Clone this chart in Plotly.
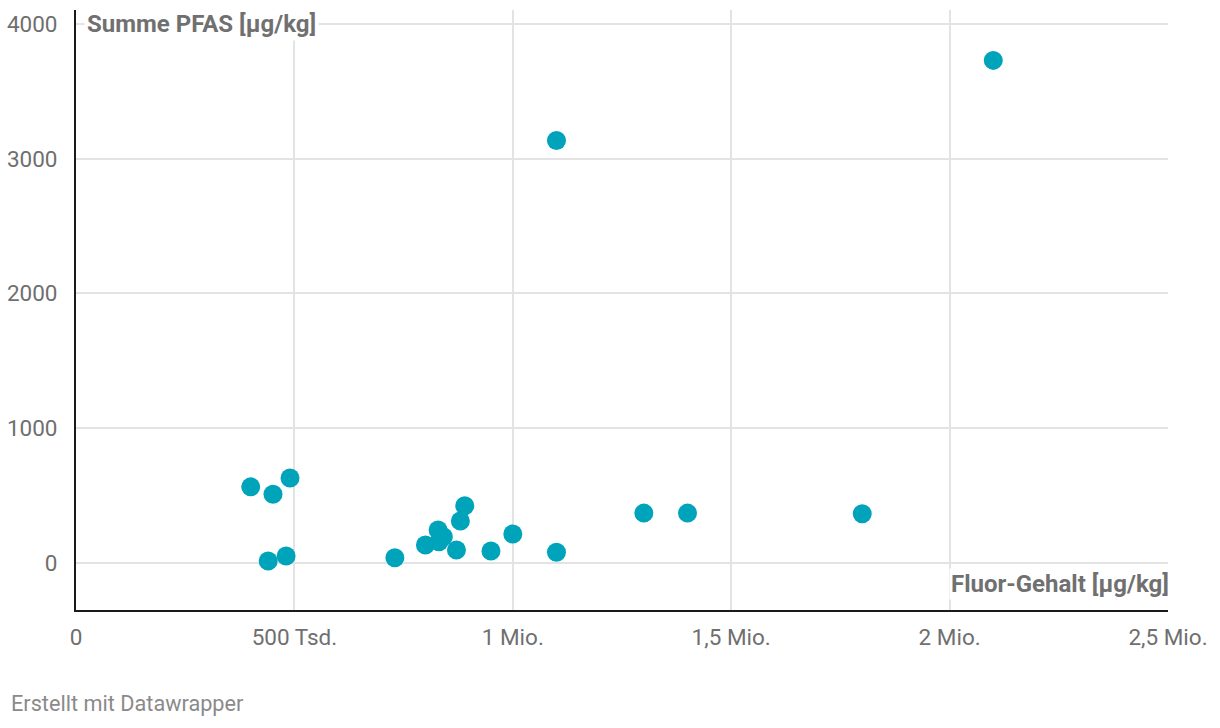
import plotly.graph_objects as go

fluor_gehalt = [400000, 451000, 490000, 440000, 481000, 730000, 800000, 829000, 831000,
                841000, 871000, 880000, 890000, 950000, 1000000, 1100000, 1100000,
                1300000, 1400000, 1800000, 2100000]
summe_pfas = [565, 510, 630, 15, 52, 39, 134, 245, 158, 195, 96, 312, 425, 89, 215, 79,
              3135, 370, 370, 365, 3730]

x_tickvals = [0, 500000, 1000000, 1500000, 2000000, 2500000]
x_ticktext = ["0", "500 Tsd.", "1 Mio.", "1,5 Mio.", "2 Mio.", "2,5 Mio."]
y_tickvals = [0, 1000, 2000, 3000, 4000]
y_ticktext = ["0", "1000", "2000", "3000", "4000"]

fig = go.Figure()
fig.add_trace(go.Scatter(
    x=fluor_gehalt, y=summe_pfas, mode="markers",
    marker=dict(size=19, color="#00a4ba", line=dict(width=0)),
    hoverinfo="x+y", showlegend=False,
))

grid = "#e3e3e3"
tickfont = dict(family="Roboto", size=22.5, color="#6f6f6f")
fig.update_layout(
    width=1220, height=728,
    margin=dict(l=76, r=52, t=10, b=118),
    paper_bgcolor="white", plot_bgcolor="white",
    font=dict(family="Roboto"),
    xaxis=dict(
        range=[0, 2500000], tickvals=x_tickvals, ticktext=x_ticktext,
        showgrid=True, gridcolor=grid, gridwidth=2, zeroline=False,
        showline=True, linecolor="#1a1a1a", linewidth=2, automargin=False,
        ticks="", tickfont=tickfont, ticklabelstandoff=6,
    ),
    yaxis=dict(
        range=[-349, 4104], tickvals=y_tickvals, ticktext=y_ticktext,
        showgrid=True, gridcolor=grid, gridwidth=2, zeroline=False,
        showline=True, linecolor="#1a1a1a", linewidth=2, automargin=False,
        ticks="", tickfont=tickfont, ticklabelstandoff=12,
    ),
    annotations=[
        dict(text="<b>Summe PFAS [µg/kg]</b>", xref="paper", x=0, xanchor="left", xshift=8,
             yref="y", y=4000, yanchor="middle", showarrow=False, bgcolor="white",
             borderpad=2, font=dict(family="Roboto", size=24, color="#707070")),
        dict(text="<b>Fluor-Gehalt [µg/kg]</b>", xref="paper", x=1, xanchor="right", xshift=3,
             yref="y", y=-156, yanchor="middle", showarrow=False, bgcolor="white",
             borderpad=1, font=dict(family="Roboto", size=24, color="#707070")),
        dict(text="Erstellt mit Datawrapper", xref="paper", x=0, xanchor="left",
             xshift=-67, yref="paper", y=0, yshift=-93, yanchor="middle",
             showarrow=False, font=dict(family="Roboto", size=21.7, color="#8a8a8a")),
    ],
)

fig.write_html("out.html")
